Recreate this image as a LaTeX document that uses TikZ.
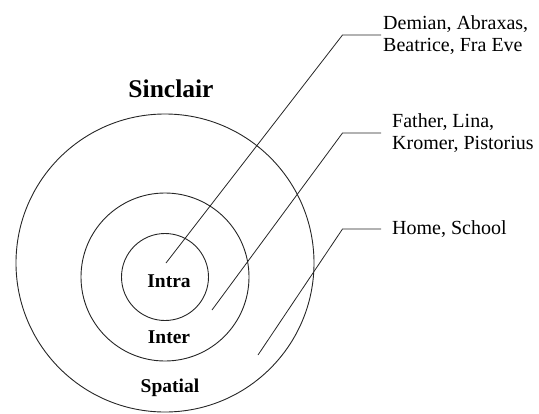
\documentclass[tikz,border=0pt]{standalone}
\usepackage{fontspec}
\setmainfont{Liberation Serif}
\begin{document}
\begin{tikzpicture}[x=1pt,y=-1pt,
  ring/.style={draw=black!85,line width=0.9pt},
  lead/.style={draw=black!85,line width=0.8pt},
  zone/.style={font=\fontsize{19.5}{22}\selectfont\bfseries,inner sep=0pt},
  note/.style={font=\fontsize{20}{21.5}\selectfont,align=left,anchor=west,inner ysep=0pt}]
\useasboundingbox (0,0) rectangle (539,413);
\draw[ring] (165,263) circle[radius=149];
\draw[ring] (165,277) circle[radius=84];
\draw[ring] (165,277) circle[radius=43.5];
\node[font=\fontsize{25.5}{28}\selectfont\bfseries,inner sep=0pt] (sinclair) at (171,89) {Sinclair};
\node[zone] (intra) at (169,281) {Intra};
\node[zone] (inter) at (169,337) {Inter};
\node[zone] (spatial) at (170,388) {Spatial};
\node[note,inner xsep=2pt] (n1) at (381,35) {Demian, Abraxas,\\Beatrice, Fra Eve};
\node[note,inner xsep=11pt] (n2) at (381,133) {Father, Lina,\\Kromer, Pistorius};
\node[note,inner xsep=11pt] (n3) at (381,229) {Home, School};
\coordinate (s1) at (166,263);
\coordinate (s2) at (212,310);
\coordinate (s3) at (258,355);
\draw[lead] (s1) -- (342.5,35) -- (n1.west);
\draw[lead] (s2) -- (342.5,133) -- (n2.west);
\draw[lead] (s3) -- (342.5,229) -- (n3.west);
\end{tikzpicture}
\end{document}
